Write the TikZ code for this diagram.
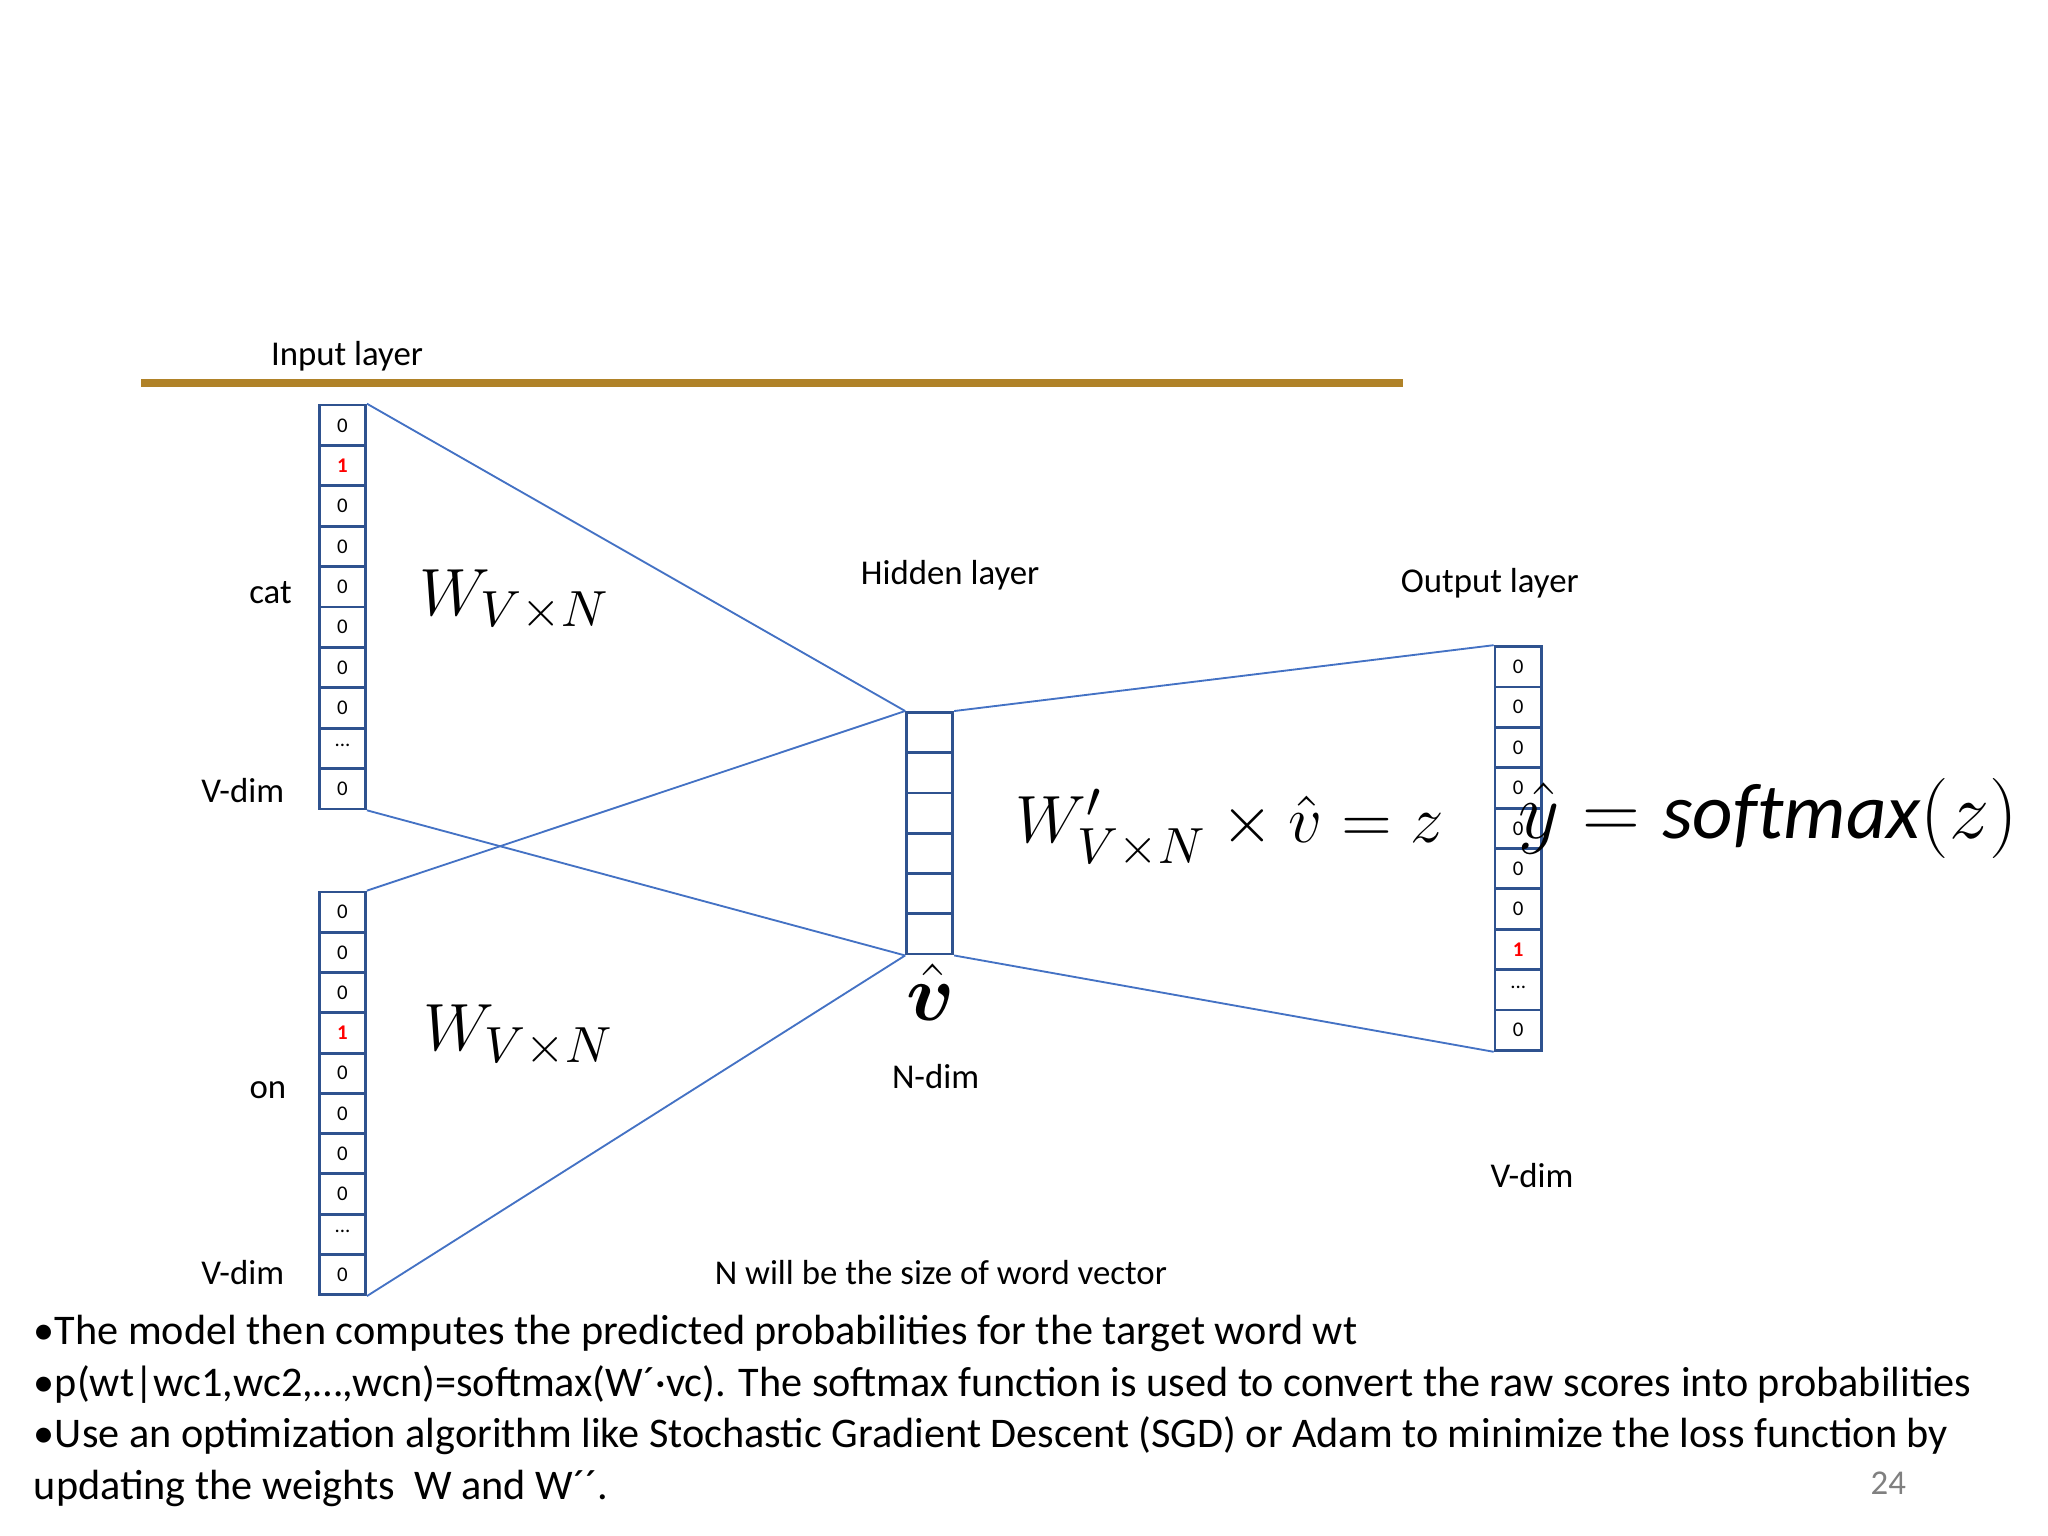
\documentclass[tikz,border=0pt]{standalone}
\usepackage{amsmath}
\usepackage{bm}
\usepackage{fontspec}
\setmainfont{Carlito}
\usetikzlibrary{positioning}
\definecolor{barbrown}{RGB}{176,130,40}
\definecolor{linkblue}{RGB}{68,114,196}
\definecolor{cellblue}{RGB}{47,82,143}
\newcommand{\dotcell}{\raisebox{0.6ex}{...}}
\newcommand{\onecell}{\textcolor{red}{\textbf{1}}}
\tikzset{
  cell/.style={draw=cellblue, line width=0.6pt, minimum width=0.35cm, minimum height=0.306cm, inner sep=0pt, font=\fontsize{4.5}{5}\selectfont},
  lbl/.style={font=\fontsize{7.5}{9}\selectfont},
  link/.style={draw=linkblue, line width=0.4pt}
}
\begin{document}
\begin{tikzpicture}[x=0.01cm, y=-0.01cm]
        \useasboundingbox (0,0) rectangle (1552,1164);
        % Define bar and titles
        \coordinate (barL) at (107,290);
        \coordinate (barR) at (1063,290);
        \draw[barbrown, line width=1.7pt] (barL) -- (barR);
        \node (input) [lbl] at (263,270) {Input layer};
        \node (hidden) [lbl] at (720,436) {Hidden layer};
        \node (output) [lbl] at (1129,442) {Output layer};

        % Define vectors
        \foreach \v [count=\i] in {0,\onecell,0,0,0,0,0,0,\dotcell,0}
            \node (cat-\i) [cell] at (259.5,{322.3+30.6*(\i-1)}) {\v};
        \foreach \v [count=\i] in {0,0,0,\onecell,0,0,0,0,\dotcell,0}
            \node (on-\i) [cell] at (259.5,{691.3+30.5*(\i-1)}) {\v};
        \foreach \i in {1,2,3,4,5,6}
            \node (hid-\i) [cell] at (704.5,{555.2+30.5*(\i-1)}) {};
        \foreach \v [count=\i] in {0,0,0,0,0,0,0,\onecell,\dotcell,0}
            \node (out-\i) [cell] at (1150.5,{505.3+30.6*(\i-1)}) {\v};

        % Define labels
        \node (catlbl) [lbl] at (205,449) {cat};
        \node (vdim1) [lbl] at (184,599) {V-dim};
        \node (onlbl) [lbl] at (203,826) {on};
        \node (vdim2) [lbl] at (184,964) {V-dim};
        \node (vdim3) [lbl] at (1161,891) {V-dim};
        \node (ndim) [lbl] at (709,816) {N-dim};
        \node (vhat) at (705,752) {\fontsize{18}{18}\selectfont$\bm{\hat{v}}$};
        \node (w1) at (390,455) {\fontsize{15}{15}\selectfont$W_{V\times N}$};
        \node (w2) at (393,785) {\fontsize{15}{15}\selectfont$W_{V\times N}$};
        \node (wprime) at (932,628) {\fontsize{15}{15}\selectfont$W'_{V\times N}\times\hat{v}=z$};
        \node (soft) at (1340,620) {\fontsize{17}{17}\selectfont$\hat{y}=\mathit{softmax}(z)$};
        \node (nsize) [lbl] at (713,964) {N will be the size of word vector};

        % Draw links
        \draw[link] (cat-1.north east) -- (hid-1.north west);
        \draw[link] (cat-10.south east) -- (hid-6.south west);
        \draw[link] (on-1.north east) -- (hid-1.north west);
        \draw[link] (on-10.south east) -- (hid-6.south west);
        \draw[link] (hid-1.north east) -- (out-1.north west);
        \draw[link] (hid-6.south east) -- (out-10.south west);

        % Notes
        \node (notes) [anchor=north west, align=left, font=\fontsize{9.1}{11.1}\selectfont, inner sep=0pt] at (25,996)
            {•The model then computes the predicted probabilities for the target word wt\\
             •p(wt|wc1,wc2,…,wcn)=softmax(W´·vc). The softmax function is used to convert the raw scores into probabilities\\
             •Use an optimization algorithm like Stochastic Gradient Descent (SGD) or Adam to minimize the loss function by\\
             updating the weights\ \ W and W´´.};
        \node (page) [lbl, gray] at (1431,1124) {24};
\end{tikzpicture}
\end{document}
